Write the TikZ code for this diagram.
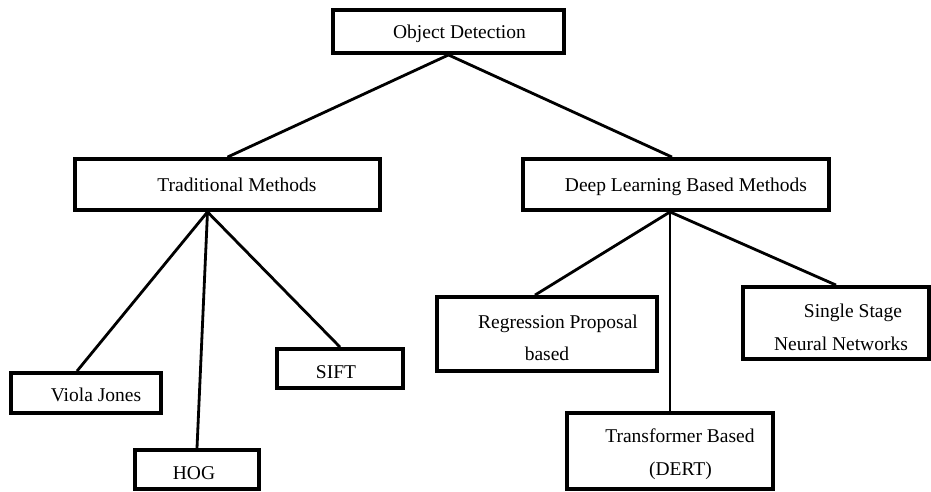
\documentclass[tikz,border=0pt]{standalone}
\usepackage{fontspec}
\setmainfont{Liberation Serif}
\usetikzlibrary{calc}
\begin{document}
\begin{tikzpicture}[x=0.02cm,y=-0.02cm,
  box/.style={draw,line width=2.2pt,inner sep=0pt},
  txt/.style={anchor=base,inner sep=0pt,font=\fontsize{11.1}{13}\selectfont},
  link/.style={line width=1.6pt}]
\useasboundingbox (0,0) rectangle (931,491);
\node[box,minimum width=4.62cm,minimum height=0.86cm] (od) at (448.5,31.5) {};
\node[box,minimum width=6.10cm,minimum height=1.02cm] (trad) at (227.5,184.5) {};
\node[box,minimum width=6.12cm,minimum height=1.02cm] (dl) at (676,184.5) {};
\node[box,minimum width=3.00cm,minimum height=0.80cm] (vj) at (86,393) {};
\node[box,minimum width=2.48cm,minimum height=0.78cm] (hog) at (197,469.5) {};
\node[box,minimum width=2.52cm,minimum height=0.78cm] (sift) at (340,368.5) {};
\node[box,minimum width=4.40cm,minimum height=1.48cm] (reg) at (547,334) {};
\node[box,minimum width=4.12cm,minimum height=1.52cm] (tf) at (670,451) {};
\node[box,minimum width=3.72cm,minimum height=1.44cm] (ss) at (836,323) {};
\node[txt] (odt) at (459.5,38) {Object Detection};
\node[txt] (tradt) at (237,191) {Traditional Methods};
\node[txt] (dlt) at (686,191.5) {Deep Learning Based Methods};
\node[txt] (vjt) at (96,401) {Viola Jones};
\node[txt] (hogt) at (194,479) {HOG};
\node[txt] (siftt) at (336,378) {SIFT};
\node[txt] (regt) at (558,328) {Regression Proposal};
\node[txt] (regb) at (547,360) {based};
\node[txt] (tft) at (680,442) {Transformer Based};
\node[txt] (tfb) at (680.5,475) {(DERT)};
\node[txt] (sst) at (853,317) {Single Stage};
\node[txt] (ssb) at (841,350) {Neural Networks};
\coordinate (tj) at ($(trad.south)+(-20,0)$);
\coordinate (dj) at ($(dl.south)+(-6,0)$);
\draw[link] (od.south) -- (trad.north);
\draw[link] (od.south) -- ($(dl.north)+(-4,0)$);
\draw[link] (tj) -- ($(vj.north)+(-9,0)$);
\draw[link] (tj) -- (hog.north);
\draw[link] (tj) -- (sift.north);
\draw[link] (dj) -- ($(reg.north)+(-12,0)$);
\draw[link] (dj) -- (tf.north);
\draw[link] (dj) -- (ss.north);
\end{tikzpicture}
\end{document}
